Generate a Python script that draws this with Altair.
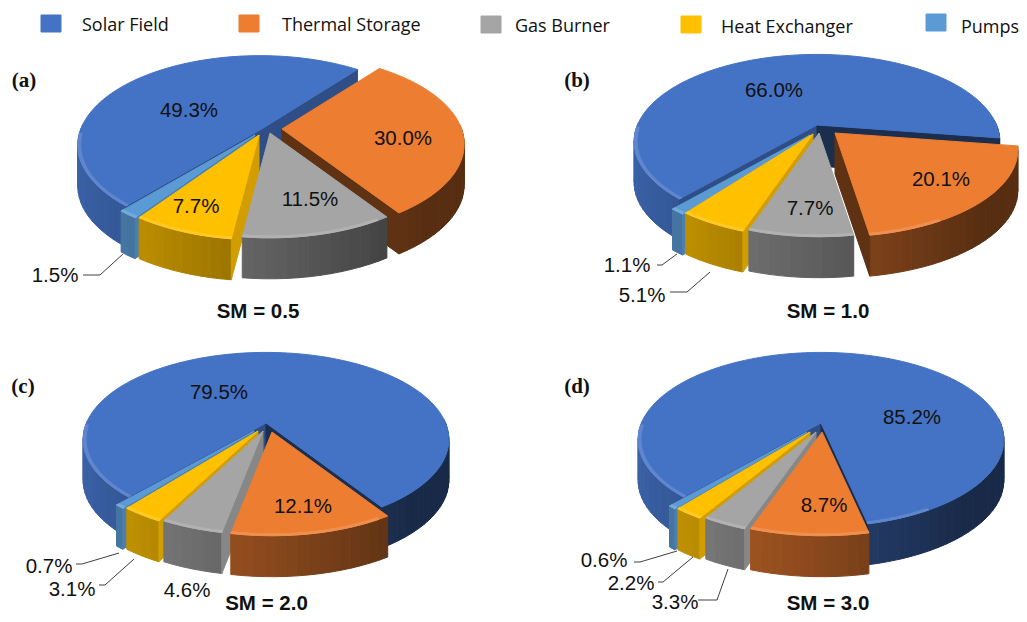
import math
import altair as alt

# ---- values (percent) ----
SERIES = ["Solar Field", "Thermal Storage", "Gas Burner", "Heat Exchanger", "Pumps"]
SOLAR = [49.3, 66.0, 79.5, 85.2]
STORAGE = [30.0, 20.1, 12.1, 8.7]
GAS = [11.5, 7.7, 4.6, 3.3]
HX = [7.7, 5.1, 3.1, 2.2]
PUMPS = [1.5, 1.1, 0.7, 0.6]
TITLES = ["SM = 0.5", "SM = 1.0", "SM = 2.0", "SM = 3.0"]
TAGS = ["(a)", "(b)", "(c)", "(d)"]
COLORS = ["#4472C4", "#ED7D31", "#A5A5A5", "#FFC000", "#5B9BD5"]

# ---- layout (page pixels) ----
W, H = 1011, 606
RX = 179.5
RY_P = [87, 84, 84, 84]
K_P = [0.17, 0.19, 0.19, 0.19]
DEPTH = 41
START = [220.5, 221, 221, 221]
APEX = [
    [(260, 130), (282, 129), (270, 133), (259, 135), (255, 135)],
    [(817, 125), (835, 133), (819, 133), (813, 134), (810, 135)],
    [(266, 423), (272, 432), (263, 431), (258, 431), (254, 431)],
    [(821, 423), (822, 432), (816, 432), (810, 432), (807, 432)],
]
LABEL_POS = [
    [(189, 110), (403, 138), (310, 199), (196, 206), (55, 275)],
    [(774, 90), (941, 179), (810, 208), (642, 295), (627, 265)],
    [(219, 392), (303, 506), (187, 590), (72, 589), (49, 566)],
    [(912, 417), (824, 505), (675, 602), (631, 583), (604, 560)],
]
TITLE_POS = [(258, 311), (828, 311), (266.5, 602.5), (828, 602.5)]
TAG_POS = [(24, 81), (577, 81), (23, 387), (577, 387)]
LEG_BOX = [(41, 15), (239, 15), (481, 16), (681, 16), (926, 14)]
LEG_TXT = [(82, 25.5), (282, 25.5), (515, 26.5), (721, 27.5), (961, 27.5)]
LEADERS = [
    [(83, 275), (100, 275), (123, 254)],
    [(657, 265), (662, 265), (677, 254)],
    [(670, 292), (687, 292), (710, 272)],
    [(76, 564), (82, 564), (119, 553)],
    [(99, 585), (105, 585), (134, 559)],
    [(634, 562), (640, 562), (677, 551)],
    [(658, 582), (663, 582), (693, 557)],
    [(698, 600), (717, 600), (728, 569)],
]
TEXT_DY = 1


def shade(hexc, s):
    r, g, b = (int(hexc[i:i + 2], 16) for i in (1, 3, 5))
    return "#%02x%02x%02x" % (round(r * s), round(g * s), round(b * s))


def tint(hexc, t):
    r, g, b = (int(hexc[i:i + 2], 16) for i in (1, 3, 5))
    return "#%02x%02x%02x" % tuple(round(c + (255 - c) * t) for c in (r, g, b))


def down(p):
    return (p[0], p[1] + DEPTH)


def poly(points, color):
    ring = [list(p) for p in points]
    ring.append(ring[0])
    return {"type": "Feature", "properties": {"c": color},
            "geometry": {"type": "Polygon", "coordinates": [ring]}}


def arc(a0, a1, step=2.0):
    n = max(2, int(abs(a1 - a0) / step) + 1)
    return [a0 + (a1 - a0) * i / n for i in range(n + 1)]


polys = []
for p in range(4):
    RY, K = RY_P[p], K_P[p]

    def pt(apex, a, r=1.0):
        u, v = math.sin(math.radians(a)) * r, -math.cos(math.radians(a)) * r
        f = 1 / (1 - K * v)
        return (round(apex[0] + RX * u * f, 2), round(apex[1] + RY * v * f, 2))

    vals = [SOLAR[p], STORAGE[p], GAS[p], HX[p], PUMPS[p]]
    spans, a = [], START[p]
    for v in vals:
        spans.append((a, a + v * 3.6))
        a += v * 3.6
    mid_v = [-math.cos(math.radians((s + e) / 2)) for s, e in spans]
    order = sorted(range(5), key=lambda i: (i != 0, mid_v[i]))
    for i in order:
        s, e = spans[i]
        base = COLORS[i]
        apex = APEX[p][i]
        angles = arc(s, e, 3.0)
        # outer wall, as narrow shaded strips
        for a0, a1 in zip(angles, angles[1:]):
            m = (a0 + a1) / 2
            if -math.cos(math.radians(m)) < -0.05:
                continue
            f = max(0.37, 0.57 - 0.29 * math.sin(math.radians(m)))
            p0, p1 = pt(apex, a0), pt(apex, a1)
            polys.append(poly([p0, p1, down(p1), down(p0)], shade(base, f)))
        # cut faces
        for ang, sign in ((s, -1), (e, 1)):
            nu = sign * math.cos(math.radians(ang))
            nv = sign * math.sin(math.radians(ang))
            if nv < 0:
                continue
            f = 0.4 if nu < 0 else (0.68 if i == 0 else 0.82)
            q = pt(apex, ang)
            polys.append(poly([apex, q, down(q), down(apex)], shade(base, f)))
        # top
        polys.append(poly([apex] + [pt(apex, x, 1.0) for x in arc(s, e, 1.5)], base))
        # thin highlight on the front rim
        for a0, a1 in zip(angles, angles[1:]):
            m = (a0 + a1) / 2
            if -math.cos(math.radians(m)) > 0.02 and math.sin(math.radians(m)) < 0.5:
                polys.append(poly([pt(apex, a0), pt(apex, a1), pt(apex, a1, 0.985), pt(apex, a0, 0.985)],
                                  tint(base, 0.15)))

# legend boxes
for (x, y), c in zip(LEG_BOX, COLORS):
    polys.append(poly([(x, y), (x + 20, y), (x + 20, y + 17), (x, y + 17)], c))

lines = [{"type": "Feature", "properties": {},
          "geometry": {"type": "LineString", "coordinates": [list(q) for q in l]}} for l in LEADERS]

pct = []
for p in range(4):
    vals = [SOLAR[p], STORAGE[p], GAS[p], HX[p], PUMPS[p]]
    for v, (x, y) in zip(vals, LABEL_POS[p]):
        pct.append({"x": x, "y": y + TEXT_DY, "t": f"{v:.1f}%"})
titles = [{"x": x, "y": y + TEXT_DY, "t": t} for (x, y), t in zip(TITLE_POS, TITLES)]
tags = [{"x": x, "y": y, "t": t} for (x, y), t in zip(TAG_POS, TAGS)]
legend = [{"x": x, "y": y, "t": t} for (x, y), t in zip(LEG_TXT, SERIES)]

proj = dict(type="identity", scale=1, translate=[-8, -8])

shapes = alt.Chart(alt.Data(values=polys)).mark_geoshape(strokeWidth=1).encode(
    fill=alt.Fill("properties.c:N", scale=None),
    stroke=alt.Stroke("properties.c:N", scale=None),
).project(**proj)

leaders = alt.Chart(alt.Data(values=lines)).mark_geoshape(
    filled=False, stroke="#404040", strokeWidth=1
).project(**proj)


def text_layer(rows, **kw):
    return alt.Chart(alt.Data(values=rows)).mark_text(baseline="middle", **kw).encode(
        longitude="x:Q", latitude="y:Q", text="t:N"
    ).project(**proj)


chart = alt.layer(
    shapes,
    leaders,
    text_layer(pct, font="Liberation Sans", fontSize=20.5, color="#111111", align="center"),
    text_layer(titles, font="Liberation Sans", fontSize=20.5, fontWeight="bold", color="#111111", align="center"),
    text_layer(tags, font="Liberation Serif", fontSize=21, fontWeight="bold", color="#111111", align="center"),
    text_layer(legend, font="Open Sans", fontSize=18, color="#111111", align="left"),
).properties(width=W, height=H, padding=0, autosize=alt.AutoSizeParams(type="none")).configure_view(stroke=None)

chart.save("out.html", embed_options={"renderer": "svg", "actions": False})
